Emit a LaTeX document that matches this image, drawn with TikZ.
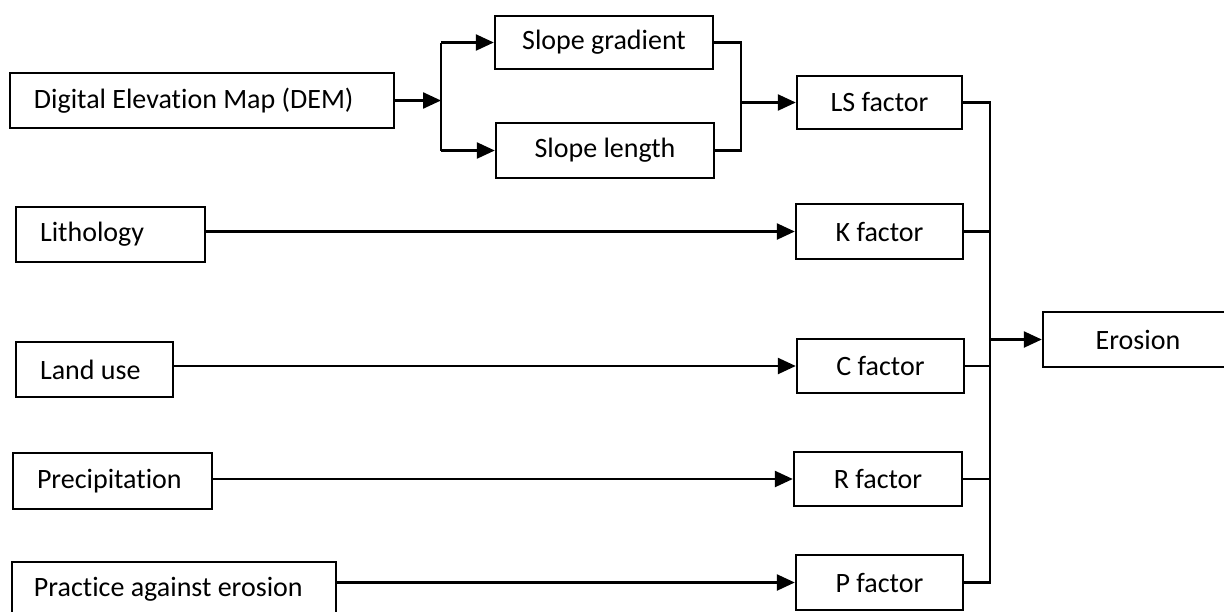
\documentclass[tikz,border=0pt]{standalone}
\usepackage{fontspec}
\setmainfont{Carlito}[Ligatures=NoCommon]
\usetikzlibrary{arrows.meta}
\tikzset{
  box/.style={draw=black, line width=2.4pt, inner sep=0pt, font=\fontsize{28}{33}\selectfont},
  lbl/.style={inner sep=0pt, anchor=west, font=\fontsize{28}{33}\selectfont},
  conn/.style={line width=2.4pt, line join=miter},
  arr/.style={conn, -{Triangle[length=18pt,width=16pt]}}
}
\begin{document}
\begin{tikzpicture}[x=1pt,y=-1pt]
\useasboundingbox (0,0) rectangle (1224,611);
\clip (0,0) rectangle (1224,611);
\fill[white] (0,0) rectangle (1224,611);
% left inputs (text set from the left edge)
\node[box, minimum width=384pt, minimum height=55pt] (dem) at (202,100.5) {};
\node[lbl] (dem-t) at ([xshift=25pt]dem.west) {Digital Elevation Map (DEM)};
\node[box, minimum width=189pt, minimum height=55pt] (lith) at (110.5,234.5) {};
\node[lbl] (lith-t) at ([xshift=25pt]lith.west) {Lithology};
\node[box, minimum width=157pt, minimum height=55pt] (land) at (94.5,369.5) {};
\node[lbl] (land-t) at ([xshift=25pt]land.west) {Land use};
\node[box, minimum width=199pt, minimum height=56pt] (prec) at (112.5,481) {};
\node[lbl] (prec-t) at ([xshift=25pt]prec.west) {Precipitation};
\node[box, minimum width=324pt, minimum height=54pt] (prac) at (174,589) {};
\node[lbl] (prac-t) at ([xshift=23pt]prac.west) {Practice against erosion};
% slope boxes
\node[box, minimum width=218pt, minimum height=53pt] (sg) at (604,42.5) {Slope gradient};
\node[box, minimum width=218pt, minimum height=55pt] (sl) at (605,150.5) {Slope length};
% factors
\node[box, minimum width=165pt, minimum height=53pt] (ls) at (879.5,102.5) {LS factor};
\node[box, minimum width=167pt, minimum height=55pt] (k) at (879.5,231.5) {K factor};
\node[box, minimum width=167pt, minimum height=54pt] (c) at (880.5,366) {C factor};
\node[box, minimum width=168pt, minimum height=54pt] (r) at (878,479) {R factor};
\node[box, minimum width=167pt, minimum height=55pt] (p) at (879.5,582.5) {P factor};
\node[box, minimum width=190pt, minimum height=55pt] (ero) at (1138,339.5) {Erosion};
% junction columns
\coordinate (br) at (441,0);
\coordinate (mg) at (741,0);
\coordinate (bus) at (990,0);
% DEM branch
\draw[arr] (dem.east) -- (br |- dem.east);
\draw[conn] (br |- sg.west) -- (br |- sl.west);
\draw[arr] (br |- sg.west) -- (sg.west);
\draw[arr] (br |- sl.west) -- (sl.west);
% merge into LS
\draw[conn] (sg.east) -- (mg |- sg.east) -- (mg |- sl.east) -- (sl.east);
\draw[arr] (mg |- ls.west) -- (ls.west);
% inputs to factors
\draw[arr] (lith.east |- k.west) -- (k.west);
\draw[arr] (land.east |- c.west) -- (c.west);
\draw[arr] (prec.east |- r.west) -- (r.west);
\draw[arr] (prac.east |- p.west) -- (p.west);
% bus
\draw[conn] (ls.east) -- (bus |- ls.east) -- (bus |- p.east) -- (p.east);
\draw[conn] (k.east) -- (bus |- k.east);
\draw[conn] (c.east) -- (bus |- c.east);
\draw[conn] (r.east) -- (bus |- r.east);
\draw[arr] (bus |- ero.west) -- (ero.west);
\end{tikzpicture}
\end{document}
